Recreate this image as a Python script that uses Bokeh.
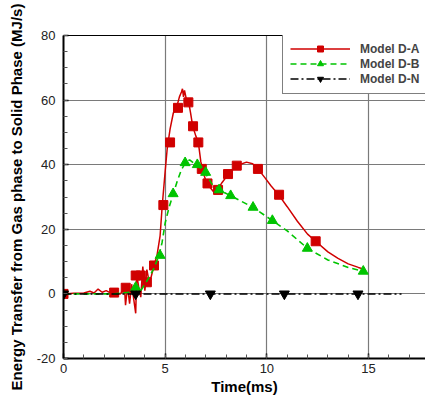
from bokeh.plotting import figure
from bokeh.models import SingleIntervalTicker, FixedTicker, LinearAxis, Range1d, Legend, LegendItem
from bokeh.embed import file_html
from bokeh.resources import INLINE

# ---- data ----
# Model D-A: continuous curve
da_t = [0, 0.5, 1.0, 1.3, 1.5, 1.7, 1.9, 2.1, 2.3, 2.5, 2.8, 3.0, 3.05, 3.15, 3.25, 3.35, 3.45,
        3.55, 3.6, 3.7, 3.8, 3.9, 4.0, 4.1, 4.2, 4.3, 4.45, 4.6, 4.75, 4.85, 5.0, 5.1, 5.24,
        5.4, 5.55, 5.7, 5.8, 5.85, 5.9, 5.95, 6.05, 6.15, 6.25, 6.35, 6.5, 6.63, 6.75, 6.85,
        7.0, 7.2, 7.4, 7.6, 7.8, 8.1, 8.5, 9.0, 9.3, 9.56, 9.9, 10.2, 10.6, 11.0, 11.5, 12.0,
        12.4, 13.0, 13.5, 14.0, 14.5, 14.8]
da_y = [0, 0.2, 0.3, 0.8, 0.3, 1.5, 0.5, 1.0, 0.3, 0.4, 0.0, 2.0, -3.5, 2.5, -3.0, 3.0, -1.5,
        -6.0, 6.0, 2.0, -1.0, 8.5, 1.0, 7.5, 4.0, 5.0, 8.8, 12, 18, 27, 38, 45, 51,
        56, 57.5, 61, 62.5, 63.5, 61, 63, 60, 59.5, 56, 52, 49, 46.9, 41, 38,
        35, 33, 31.5, 32.5, 34.5, 37, 39.7, 40.8, 40.3, 38.7, 36, 33.5, 30.5, 27, 22.5, 18.5,
        16.3, 13, 11, 9.3, 8.2, 7.6]
# Model D-A: symbols
da_mt = [0, 2.49, 3.06, 3.55, 3.8, 4.1, 4.45, 4.91, 5.24, 5.63, 6.14, 6.37, 6.63, 6.8, 7.08,
         7.6, 8.09, 8.52, 9.56, 10.6, 12.4]
da_my = [0, 0.4, 1.9, 5.7, 5.7, 3.6, 8.8, 27.5, 46.9, 57.6, 59.3, 51.9, 46.9, 38.7, 34.2,
         32.2, 37.1, 39.7, 38.7, 30.7, 16.3]

# Model D-B: continuous curve
db_t = [0, 2.5, 3.2, 3.55, 3.8, 4.0, 4.2, 4.45, 4.7, 4.85, 5.0, 5.2, 5.4, 5.6, 5.8, 6.0, 6.2,
        6.4, 6.58, 6.8, 7.0, 7.3, 7.65, 8.22, 9.32, 10.27, 11.0, 12.0, 13.0, 14.0, 14.75]
db_y = [0, 0, 0.5, 2, 1, 3, 5, 8, 12, 16, 22, 27, 31, 35, 38.5, 40.6, 41.5,
        40.5, 40, 38.5, 37.2, 34, 32.2, 30.4, 26.8, 22.7, 19.5, 14.1, 10.5, 8.2, 7.0]
# Model D-B: symbols
db_mt = [3.55, 4.75, 5.39, 5.98, 6.58, 6.99, 7.65, 8.22, 9.32, 10.27, 11.99, 14.74]
db_my = [2.0, 11.9, 31.0, 40.6, 40.0, 37.6, 32.2, 30.4, 26.8, 22.7, 14.1, 7.0]

# Model D-N
dn_t = [0, 16.62]
dn_y = [0, 0]
dn_mt = [0, 3.55, 7.22, 10.86, 14.48]
dn_my = [0, 0, 0, 0, 0]

x_ticks_interval = 5
y_ticks_interval = 20
y_label_overrides = {-20: "-20"}

RED = "#d00000"
GREEN = "#00c400"
FONT = "Liberation Sans"

p = figure(width=425, height=398, output_backend="svg", toolbar_location=None,
           x_range=Range1d(0, 17.8), y_range=Range1d(-20, 80),
           min_border_left=63, min_border_right=0, min_border_top=35, min_border_bottom=40,
           x_axis_label="Time(ms)",
           y_axis_label="Energy Transfer from Gas phase to Solid Phase (MJ/s)")
p.outline_line_color = None
p.background_fill_color = "white"
p.border_fill_color = "white"

xt = SingleIntervalTicker(interval=x_ticks_interval, num_minor_ticks=5)
yt = SingleIntervalTicker(interval=y_ticks_interval, num_minor_ticks=4)
p.xaxis.ticker = xt
p.yaxis.ticker = yt
p.xgrid.ticker = xt
p.ygrid.ticker = yt
for g in (p.xgrid, p.ygrid):
    g.grid_line_color = "#7a7a7a"
    g.grid_line_width = 1.2

for ax in (p.xaxis, p.yaxis):
    ax.axis_line_color = "black"
    ax.axis_line_width = 2
    ax.major_tick_in = 5
    ax.major_tick_out = 0
    ax.minor_tick_in = 4
    ax.minor_tick_out = 0
    ax.major_tick_line_color = "black"
    ax.major_tick_line_width = 1.5
    ax.minor_tick_line_color = "#555555"
    ax.major_label_text_font = FONT
    ax.major_label_text_font_size = "13px"
    ax.major_label_text_color = "#222222"
    ax.axis_label_text_font = FONT
    ax.axis_label_text_font_style = "bold"
    ax.axis_label_text_font_size = "15px"
    ax.axis_label_text_color = "black"
p.yaxis.major_label_overrides = y_label_overrides
p.yaxis.major_label_standoff = 8
p.xaxis.major_label_standoff = 5
p.yaxis.axis_label_standoff = 9
p.xaxis.axis_label_standoff = 2

top = LinearAxis(ticker=FixedTicker(ticks=[]), major_tick_in=0, major_tick_out=0,
                 minor_tick_in=0, minor_tick_out=0,
                 axis_line_color="black", axis_line_width=1.2)
p.add_layout(top, "above")

# curves
la = p.line(da_t, da_y, line_color=RED, line_width=1.5)
ma = p.scatter(da_mt, da_my, marker="square", size=9, fill_color=RED, line_color=RED)
lb = p.line(db_t, db_y, line_color=GREEN, line_width=1.6, line_dash="6 4")
mb = p.scatter(db_mt, db_my, marker="triangle", size=10, fill_color=GREEN, line_color=GREEN)
ln = p.line(dn_t, dn_y, line_color="black", line_width=1.5, line_dash="8 3 2 3")
mn = p.scatter(dn_mt, dn_my, marker="inverted_triangle", size=10, fill_color="black", line_color="black")

legend = Legend(items=[
    LegendItem(label="Model D-A", renderers=[la, ma]),
    LegendItem(label="Model D-B", renderers=[lb, mb]),
    LegendItem(label="Model D-N", renderers=[ln, mn]),
], location=(219, 264))
legend.glyph_width = 60
legend.glyph_height = 15
legend.label_height = 15
legend.label_width = 90
legend.label_standoff = 10
legend.spacing = 0
legend.padding = 7
legend.margin = 0
legend.border_line_color = "black"
legend.border_line_width = 1
legend.background_fill_alpha = 1
legend.label_text_font = FONT
legend.label_text_font_style = "bold"
legend.label_text_font_size = "12px"
p.add_layout(legend)

open("out.html", "w").write(file_html(p, INLINE))
